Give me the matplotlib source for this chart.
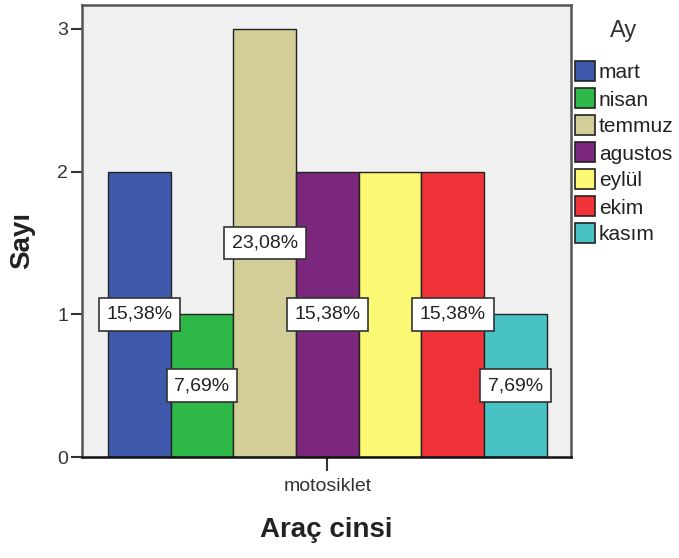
import matplotlib
matplotlib.use("Agg")
import matplotlib.pyplot as plt
from matplotlib.patches import Rectangle

plt.rcParams['font.family'] = ['Liberation Sans', 'DejaVu Sans']

months = ["mart", "nisan", "temmuz", "agustos", "eylül", "ekim", "kasım"]
counts = [2, 1, 3, 2, 2, 2, 1]
pct_labels = ["15,38%", "7,69%", "23,08%", "15,38%", "15,38%", "15,38%", "7,69%"]
show_label = [True, True, True, True, False, True, True]
colors = ["#3E58AC", "#2EB848", "#D3CE97", "#7B277D", "#FBF873", "#EF3338", "#48C2C5"]
category = "motosiklet"
y_ticks = [0, 1, 2, 3]

W, H = 679, 558
fig = plt.figure(figsize=(W / 100, H / 100), dpi=100)
ax = fig.add_axes([82 / W, 1 - 457 / H, (571 - 82) / W, (457 - 5) / H])
ax.set_facecolor("#F0F0F0")

xs = list(range(len(months)))
ax.bar(xs, counts, width=1.0, color=colors, edgecolor="#222222", linewidth=1.0, zorder=2)

for x, c, lab, s in zip(xs, counts, pct_labels, show_label):
    if s:
        ax.text(x, c / 2, lab, ha="center", va="center", fontsize=14, color="#222222", zorder=5,
                bbox=dict(boxstyle="square,pad=0.4", facecolor="white", edgecolor="#333333", linewidth=1.2))

ax.set_xlim(-0.915, 6.885)
ax.set_ylim(0, 3.168)
ax.set_yticks(y_ticks)
ax.set_yticklabels([str(t) for t in y_ticks], fontsize=14, color="#333333")
ax.set_xticks([3])
ax.set_xticklabels([category], fontsize=14, color="#333333")
ax.tick_params(axis="y", length=8, width=1.5, color="#333333", pad=2)
ax.tick_params(axis="x", length=10, width=1.5, color="#333333", pad=5)

for side in ["left", "top", "right"]:
    ax.spines[side].set_color("#555555")
    ax.spines[side].set_linewidth(1.8)
ax.spines["bottom"].set_color("#111111")
ax.spines["bottom"].set_linewidth(1.8)

fig.text(22 / W, 1 - 240 / H, "Sayı", rotation=90, ha="center", va="center",
         fontsize=20, fontweight="bold", color="#222222")
fig.text(326 / W, 1 - 530 / H, "Araç cinsi", ha="center", va="center",
         fontsize=20, fontweight="bold", color="#222222")

# legend
fig.text(624 / W, 1 - 31 / H, "Ay", ha="center", va="center", fontsize=17, color="#333333")
for i, (m, c) in enumerate(zip(months, colors)):
    top = 61 + 27 * i
    fig.patches.append(Rectangle((575 / W, 1 - (top + 20) / H), 20 / W, 20 / H,
                                 transform=fig.transFigure, facecolor=c,
                                 edgecolor="#222222", linewidth=1.2))
    fig.text(599 / W, 1 - (top + 10) / H, m, ha="left", va="center_baseline",
             fontsize=15, color="#222222")

fig.savefig("out.png", dpi=100)
